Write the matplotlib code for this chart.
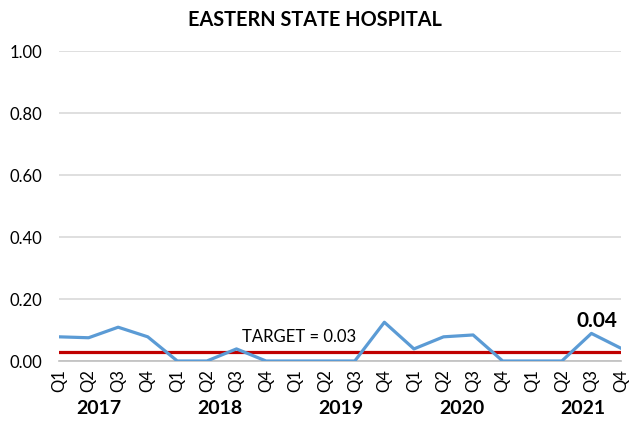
import matplotlib
matplotlib.use("Agg")
import matplotlib.pyplot as plt

# quarterly rate, Eastern State Hospital
quarters = ["Q1", "Q2", "Q3", "Q4"] * 5
years = ["2017", "2018", "2019", "2020", "2021"]
rates = [0.078, 0.075, 0.109, 0.078,
         0.0, 0.0, 0.039, 0.0,
         0.0, 0.0, 0.0, 0.125,
         0.039, 0.078, 0.084, 0.0,
         0.0, 0.0, 0.089, 0.041]
target = 0.03

plt.rcParams['font.family'] = ['Lato', 'DejaVu Sans']

fig = plt.figure(figsize=(6.29, 4.21), dpi=100)
# plot area: x 59..621 px, y 51..361 px
ax = fig.add_axes([59 / 629, 60 / 421, 562 / 629, 310 / 421])

x = list(range(len(rates)))
ax.axhline(target, color='#C00000', linewidth=2.3, zorder=2)
ax.plot(x, rates, color='#5B9BD5', linewidth=2.3, zorder=3)

ax.set_xlim(0, len(rates) - 1)
ax.set_ylim(0, 1.0)
yt = [0, 0.2, 0.4, 0.6, 0.8, 1.0]
ax.set_yticks(yt)
ax.set_yticklabels([f"{v:.2f}" for v in yt], fontsize=12)
ax.yaxis.grid(True, color='#D9D9D9', linewidth=1.2)
ax.set_axisbelow(True)
ax.tick_params(axis='y', length=0, pad=12)

ax.set_xticks(x)
ax.set_xticklabels(quarters, rotation=90, fontsize=12)
ax.tick_params(axis='x', length=0, pad=6)
ax.set_xticks([0, 4, 8, 12, 16], minor=True)
ax.tick_params(axis='x', which='minor', length=4, color='#BFBFBF')

for s in ['top', 'right', 'left']:
    ax.spines[s].set_visible(False)
ax.spines['bottom'].set_color('#BFBFBF')
ax.spines['bottom'].set_linewidth(1.2)

# year labels under each group of four quarters
for i, yr in enumerate(years):
    xd = 1.35 + 4.09 * i
    xf = fig.transFigure.inverted().transform(ax.transData.transform((xd, 0)))[0]
    fig.text(xf, 1 - 409 / 421, yr, ha='center', va='center', fontsize=14, fontweight='bold')

ax.text(8.1, 0.077, f"TARGET = {target:.2f}", ha='center', va='center', fontsize=12)
ax.annotate(f"{rates[-1]:.2f}", (len(rates) - 1, rates[-1]), xytext=(-17, 20),
            textcoords='offset points', ha='center', va='center',
            fontsize=15, fontweight='bold')

fig.text(0.50, 1 - 20 / 421, "EASTERN STATE HOSPITAL", ha='center', va='center',
         fontsize=14.3, fontweight='bold')

fig.savefig("out.png", dpi=100)
